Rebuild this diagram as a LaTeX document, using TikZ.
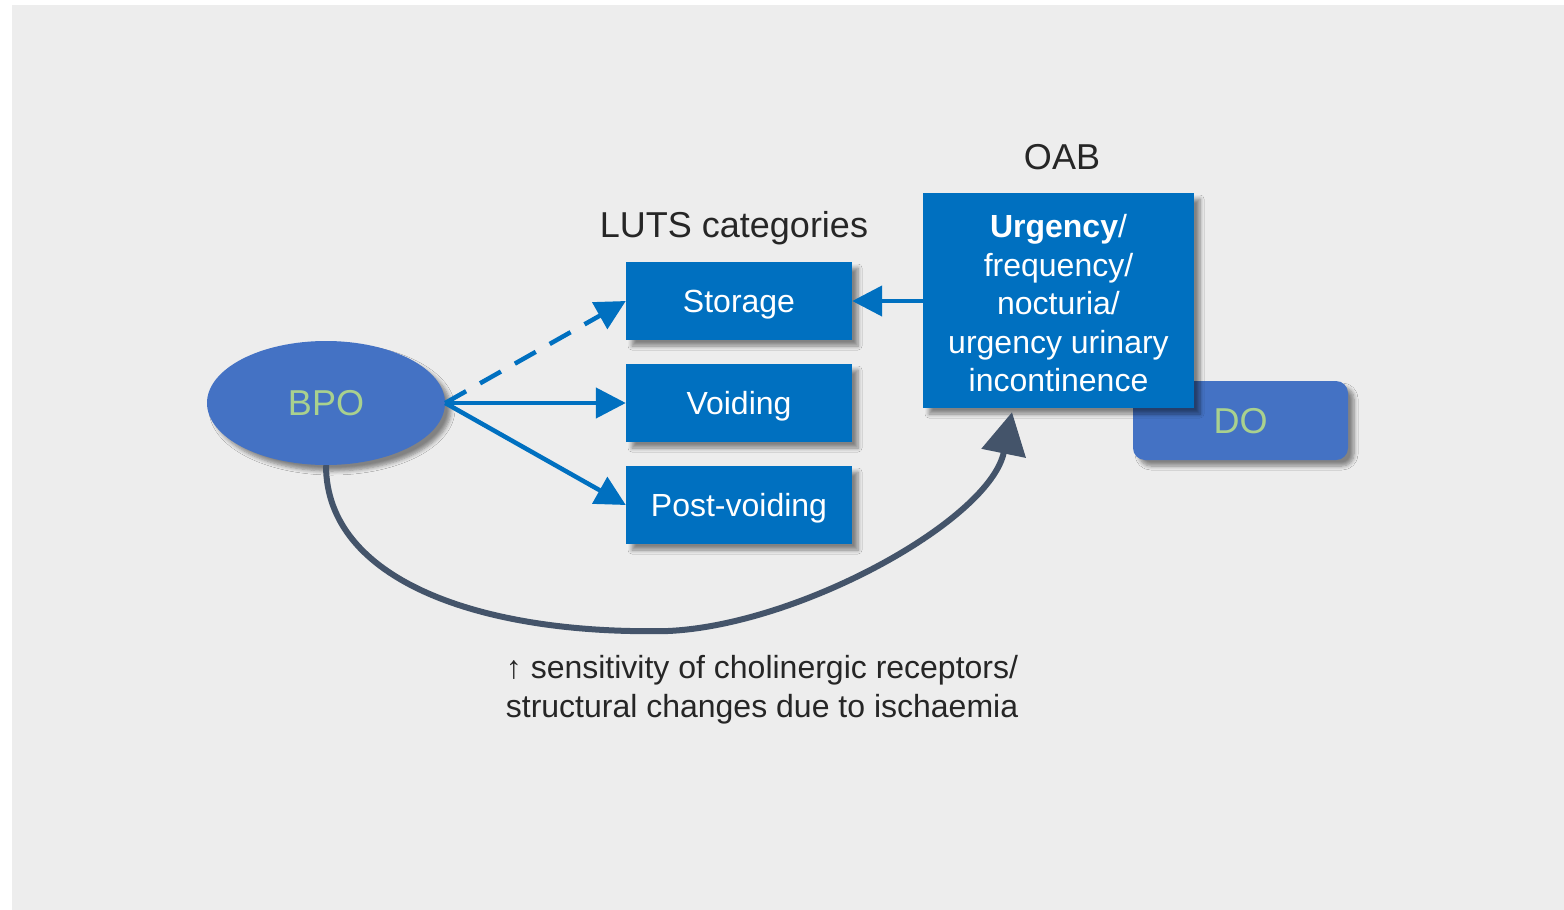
\documentclass[tikz,border=0pt]{standalone}
\usepackage{fontspec}
\setmainfont{Liberation Sans}
\usetikzlibrary{arrows.meta,shapes.geometric,shadows.blur}
\definecolor{bg}{HTML}{EDEDED}
\definecolor{boxblue}{HTML}{0070C0}
\definecolor{ellblue}{HTML}{4472C4}
\definecolor{lgreen}{HTML}{A9D18E}
\definecolor{slate}{HTML}{44546A}
\definecolor{txt}{HTML}{262626}
\begin{document}
\begin{tikzpicture}[x=1pt,y=-1pt,
 shad/.style={blur shadow={shadow xshift=6pt,shadow yshift=-6pt,shadow blur steps=6,shadow blur radius=4pt,shadow opacity=45}},
 lutsbox/.style={shad,fill=boxblue,text=white,minimum width=226pt,minimum height=78pt,inner sep=0pt,text height=23pt,text depth=0pt,font=\fontsize{32}{38.5}\selectfont},
 big/.style={font=\fontsize{36}{43}\selectfont,text height=25.8pt,text depth=0pt,inner sep=0pt},
 lbl/.style={big,text=txt},
 barrow/.style={draw=boxblue,line width=4.5pt,-{Triangle[length=30pt,width=30pt]}},
]
\useasboundingbox (0,0) rectangle (1564,910);
\fill[bg] (12,5) rectangle (1564,910);

\node[lbl] (oab) at (1062,157) {OAB};
\node[lbl] (luts) at (734,225) {LUTS categories};

\node[lutsbox] (stor) at (739,301) {Storage};
\node[lutsbox] (void) at (739,403) {Voiding};
\node[lutsbox] (post) at (739,505) {Post-voiding};

\node[shad,big,fill=ellblue,rounded corners=12pt,minimum width=215pt,minimum height=79pt,text=lgreen] (do) at (1240.5,420.5) {DO};

\node[shad,fill=boxblue,minimum width=271pt,minimum height=215pt,inner sep=0pt] (urg) at (1058.5,300.5) {};
\node[text=white,align=center,inner sep=0pt,font=\fontsize{32}{38.5}\selectfont] (urgtxt) at (1058.5,303.5)
 {\textbf{Urgency}/\\frequency/\\nocturia/\\urgency urinary\\incontinence};

\node[ellipse,shad,big,fill=ellblue,minimum width=238pt,minimum height=124pt,text=lgreen] (bpo) at (326,403) {BPO};

\draw[barrow,dash pattern=on 24pt off 16pt] (bpo.east) -- (stor.west);
\draw[barrow] (bpo.east) -- (void.west);
\draw[barrow] (bpo.east) -- (post.west);
\draw[barrow] (urg.west |- stor.east) -- (stor.east);

\coordinate (low) at (668,631);
\draw[slate,line width=6pt,-{Triangle[length=42pt,width=44pt]}] (bpo.south) .. controls (326,580) and (480,635) .. (low) .. controls (800,625) and (990,520) .. ([xshift=-46.5pt,yshift=-4pt]urg.south);

\node[text=txt,align=center,inner sep=0pt,font=\fontsize{32}{39}\selectfont] (note) at (762,690)
 {↑ sensitivity of cholinergic receptors/\\structural changes due to ischaemia};
\end{tikzpicture}
\end{document}
